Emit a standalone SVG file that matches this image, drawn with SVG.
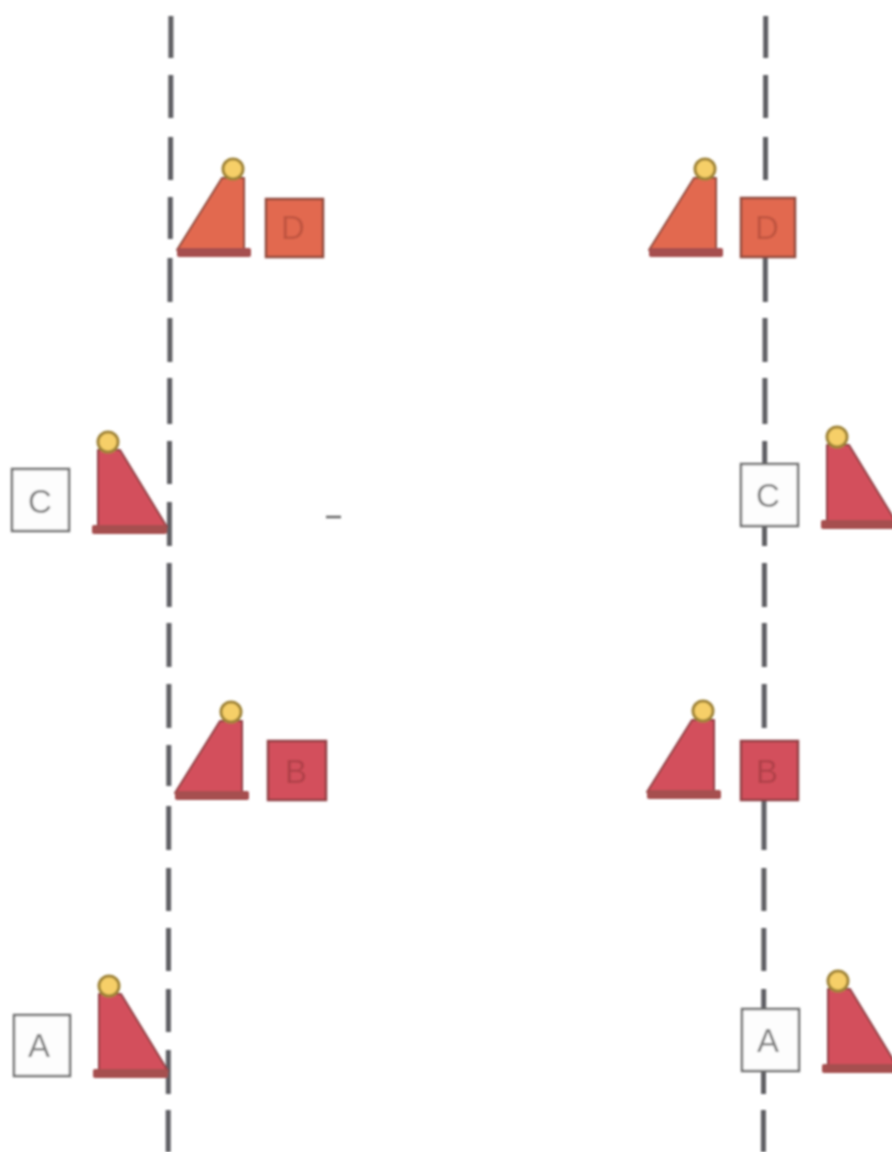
<svg xmlns="http://www.w3.org/2000/svg" width="892" height="1152" viewBox="0 0 892 1152">
<style>
.dash{fill:none;stroke:#5f5f63;stroke-width:5}
.box{stroke-width:2.5}
.white{fill:#fdfdfd;stroke:#6f6f6f}
.orange{fill:#e2694f;stroke:#8f4a3c}
.red{fill:#d3505b;stroke:#8f3f45}
.cone{stroke-width:2;stroke-linejoin:round}
.base{fill:#a64f50;stroke:none}
.ball{fill:#f6cf68;stroke:#a08438;stroke-width:3}
text{font-family:"Liberation Sans",Arial,sans-serif;font-size:33px;text-anchor:middle;stroke:none}
.lw{fill:#808080}
.ld{fill:#c05540}
.lr{fill:#b0404a}
</style>
<defs>
<filter id="soft" x="0" y="0" width="892" height="1152" filterUnits="userSpaceOnUse"><feGaussianBlur stdDeviation="0.9"/></filter>
<g id="coneL">
<polygon class="cone" points="0,0 67,0 67,-72 45,-72"/>
<rect class="base" x="0" y="-2" width="74" height="9" rx="2"/>
<circle class="ball" cx="56" cy="-81" r="10"/>
</g>
<g id="coneR">
<polygon class="cone" points="75,0 6,0 6,-77 28,-77"/>
<rect class="base" x="0" y="-2" width="75" height="9" rx="2"/>
<circle class="ball" cx="16" cy="-85" r="10"/>
</g>
</defs>
<g filter="url(#soft)">
<g id="connectors">
<path class="dash" d="M170.9 16V58M170.8 75V118M170.6 137V180M170.3 197V239M170 258V302M169.9 318V362M169.7 378V424M169.5 441V484M169.4 502V546M169.2 563V607M169 623V667M168.9 684V728M168.8 745V786M168.7 806V850M168.6 868V911M168.5 928V971M168.4 989V1032M168.3 1050V1094M168.2 1110V1152"/>
<path class="dash" d="M765.7 16V58M765.6 75V118M765.5 137V180M765.3 257V302M765 318V362M764.9 378V424M764.7 441V465M764.5 526V546M764.4 563V607M764.3 623V667M764.2 684V728M764 800V850M763.9 868V911M763.8 928V971M763.7 989V1010M763.5 1070V1094M763.4 1110V1152"/>
<path d="M326 517H341" fill="none" stroke="#666" stroke-width="2.5"/>
</g>
<g id="cone-d-left" class="orange"><use href="#coneL" x="177" y="250"/></g>
<g id="box-d-left"><rect class="box orange" x="266" y="199" width="57" height="58"/><text class="ld" x="293" y="239">D</text></g>
<g id="cone-d-right" class="orange"><use href="#coneL" x="649" y="250"/></g>
<g id="box-d-right"><rect class="box orange" x="741" y="198" width="54" height="59"/><text class="ld" x="767" y="239">D</text></g>
<g id="cone-c-left" class="red"><use href="#coneR" x="92" y="527"/></g>
<g id="box-c-left"><rect class="box white" x="12" y="469" width="57" height="62"/><text class="lw" x="40" y="513">C</text></g>
<g id="cone-c-right" class="red"><use href="#coneR" x="821" y="522"/></g>
<g id="box-c-right"><rect class="box white" x="741" y="464" width="57" height="62"/><text class="lw" x="768" y="507">C</text></g>
<g id="cone-b-left" class="red"><use href="#coneL" x="175" y="793"/></g>
<g id="box-b-left"><rect class="box red" x="268" y="741" width="58" height="59"/><text class="lr" x="296" y="783">B</text></g>
<g id="cone-b-right" class="red"><use href="#coneL" x="647" y="792"/></g>
<g id="box-b-right"><rect class="box red" x="741" y="741" width="57" height="59"/><text class="lr" x="767" y="783">B</text></g>
<g id="cone-a-left" class="red"><use href="#coneR" x="93" y="1071"/></g>
<g id="box-a-left"><rect class="box white" x="14" y="1015" width="56" height="61"/><text class="lw" x="39" y="1057">A</text></g>
<g id="cone-a-right" class="red"><use href="#coneR" x="822" y="1066"/></g>
<g id="box-a-right"><rect class="box white" x="742" y="1009" width="57" height="62"/><text class="lw" x="768" y="1052">A</text></g>
</g>
</svg>
